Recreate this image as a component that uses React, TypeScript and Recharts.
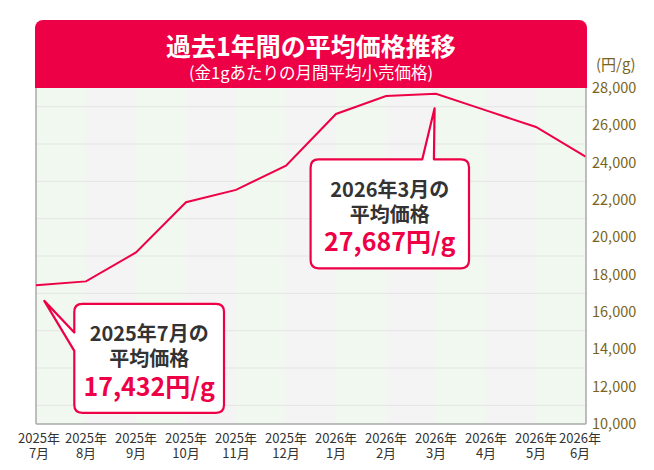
import React from 'react';
import { LineChart, Line, XAxis, YAxis, CartesianGrid, ReferenceLine, ReferenceDot } from 'recharts';

const years = ['2025年', '2025年', '2025年', '2025年', '2025年', '2025年', '2026年', '2026年', '2026年', '2026年', '2026年', '2026年'];
const months = ['7月', '8月', '9月', '10月', '11月', '12月', '1月', '2月', '3月', '4月', '5月', '6月'];
const prices = [17432, 17640, 19190, 21880, 22540, 23840, 26610, 27570, 27687, 26800, 25910, 24310];
const yTicks = [10000, 12000, 14000, 16000, 18000, 20000, 22000, 24000, 26000, 28000];
const gridValues = [11000, 12000, 13000, 14000, 15000, 16000, 17000, 18000, 19000, 20000, 21000, 22000, 23000, 24000, 25000, 26000, 27000];
const titleText = '過去1年間の平均価格推移';
const subtitleText = '(金1gあたりの月間平均小売価格)';
const unitText = '(円/g)';
const calloutIndexes = [0, 8];

const RED = '#ee0046';
const FONT = '"Noto Sans CJK JP", "Noto Sans", sans-serif';

const data = years.map((y, i) => ({ cat: y + months[i], year: y, month: months[i], price: prices[i] }));

const fmt = (v: number) => v.toLocaleString('en-US');

const XTick = (props: any) => {
  const { x, y, payload } = props;
  const i = payload.index;
  const dx = i === 0 ? 3 : i === years.length - 1 ? -6 : 0;
  const tx = x + dx;
  return (
    <text x={tx} y={y + 19} textAnchor="middle" fill="#333" fontSize={13} fontFamily={FONT}>
      <tspan x={tx} y={y + 19}>{years[i]}</tspan>
      <tspan x={tx} y={y + 34}>{months[i]}</tspan>
    </text>
  );
};

const r = 8;

const calloutBelow = (cx: number, cy: number) => {
  const L = cx + 38.3, R = cx + 188, T = cy + 18.6, B = cy + 127.6;
  const tipX = cx + 8.3, tipY = cy + 15.6;
  const bU = cy + 47.3, bL = cy + 65.6;
  const d = `M${L + r},${T} H${R - r} Q${R},${T} ${R},${T + r} V${B - r} Q${R},${B} ${R - r},${B} H${L + r} Q${L},${B} ${L},${B - r} V${bL} L${tipX},${tipY} L${L},${bU} V${T + r} Q${L},${T} ${L + r},${T} Z`;
  return { d, boxCx: (L + R) / 2, T };
};

const calloutAbove = (cx: number, cy: number) => {
  const L = cx - 125.4, R = cx + 33, T = cy + 65.5, B = cy + 174.5;
  const tipX = cx - 1.4, tipY = cy + 14.5;
  const bLx = cx - 13.7, bRx = cx - 2.1;
  const d = `M${L + r},${T} H${bLx} L${tipX},${tipY} L${bRx},${T} H${R - r} Q${R},${T} ${R},${T + r} V${B - r} Q${R},${B} ${R - r},${B} H${L + r} Q${L},${B} ${L},${B - r} V${T + r} Q${L},${T} ${L + r},${T} Z`;
  return { d, boxCx: (L + R) / 2, T };
};

const makeCallout = (idx: number) => (props: any) => {
  const { cx, cy } = props;
  const geo = idx === 0 ? calloutBelow(cx, cy) : calloutAbove(cx, cy);
  return (
    <g>
      <path d={geo.d} fill="#fff" stroke={RED} strokeWidth={2.2} strokeLinejoin="round" />
      <text x={geo.boxCx} y={geo.T + 29} textAnchor="middle" dominantBaseline="central" fill="#333" fontSize={20} fontWeight={700} fontFamily={FONT}>{years[idx] + months[idx] + 'の'}</text>
      <text x={geo.boxCx} y={geo.T + 54} textAnchor="middle" dominantBaseline="central" fill="#333" fontSize={20} fontWeight={700} fontFamily={FONT}>平均価格</text>
      <text x={geo.boxCx} y={geo.T + 80.7} textAnchor="middle" dominantBaseline="central" fill={RED} fontSize={25} fontWeight={700} fontFamily={FONT}>{fmt(prices[idx]) + '円/g'}</text>
    </g>
  );
};

export default function App() {
  return (
    <div style={{ position: 'absolute', left: 0, top: 0, width: 654, height: 470, background: '#fff', fontFamily: FONT }}>
      <LineChart width={654} height={470} data={data} margin={{ top: 88, right: 0, bottom: 0, left: 36 }}>
        <CartesianGrid horizontal={false} vertical={true} stroke="none" verticalFill={['#f0f8ef', '#f4f4f4']} />
        <CartesianGrid vertical={false} horizontalValues={gridValues} stroke="#e4e4e4" strokeWidth={1} />
        <XAxis dataKey="cat" interval={0} height={46} tickLine={false} tickSize={0} tickMargin={0} axisLine={{ stroke: '#aaaaaa', strokeWidth: 1.5 }} tick={<XTick />} />
        <YAxis orientation="right" width={68} domain={[10000, 28000]} ticks={yTicks} tickFormatter={fmt} tickLine={false} tickSize={4} tickMargin={2} axisLine={{ stroke: '#aaaaaa', strokeWidth: 1.5 }} tick={{ fill: '#786420', fontSize: 14.5, fontFamily: FONT }} />
        <ReferenceLine x={data[0].cat} stroke="#aaaaaa" strokeWidth={1.5} />
        <Line type="linear" dataKey="price" stroke={RED} strokeWidth={2} dot={false} activeDot={false} isAnimationActive={false} />
        {calloutIndexes.map((idx) => (
          <ReferenceDot key={idx} x={data[idx].cat} y={prices[idx]} r={0} shape={makeCallout(idx)} ifOverflow="visible" />
        ))}
      </LineChart>
      <div style={{ position: 'absolute', left: 35, top: 20, width: 552, height: 68, background: RED, borderRadius: '8px 8px 0 0', color: '#fff', textAlign: 'center' }}>
        <div style={{ position: 'absolute', left: 0, right: 0, top: 25, transform: 'translateY(-50%)', fontSize: 25, fontWeight: 700, lineHeight: 1 }}>{titleText}</div>
        <div style={{ position: 'absolute', left: 0, right: 0, top: 52, transform: 'translateY(-50%)', fontSize: 16.5, lineHeight: 1 }}>{subtitleText}</div>
      </div>
      <div style={{ position: 'absolute', left: 596, top: 63, transform: 'translateY(-50%)', fontSize: 15, lineHeight: 1, color: '#786420' }}>{unitText}</div>
    </div>
  );
}
